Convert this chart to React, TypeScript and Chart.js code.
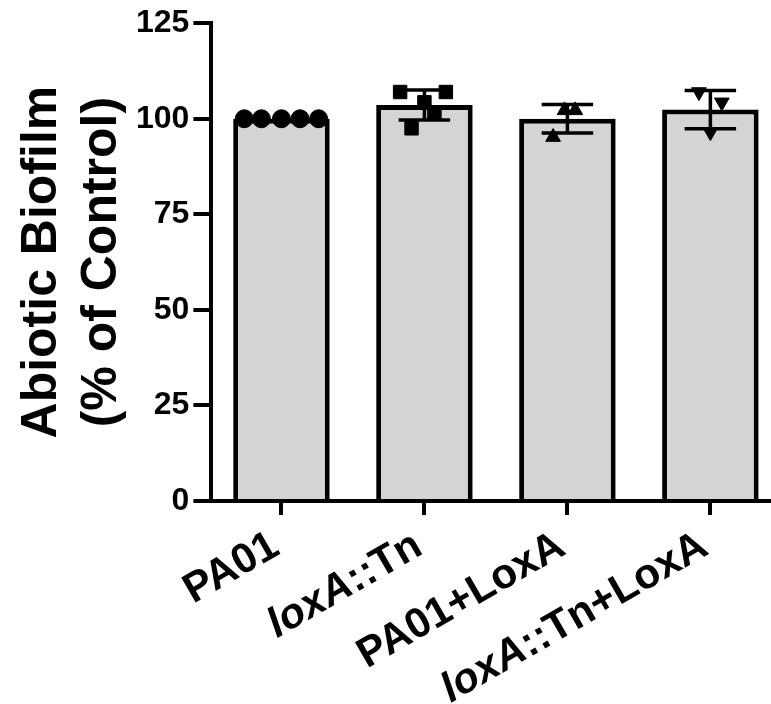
import React, { useEffect, useRef } from "react";
import { Chart, registerables } from "chart.js";

Chart.register(...registerables);

// ---- data ----
const categories = ["PA01", "loxA::Tn", "PA01+LoxA", "loxA::Tn+LoxA"];
const italicWord = "loxA";
const means = [100, 103.6, 100.0, 102.4];
const sds = [0, 3.9, 3.75, 5.0];

const pa01Values = [100, 100, 100, 100, 100];
const pa01Jitter = [-0.26, -0.14, 0, 0.13, 0.26];
const loxTnValues = [107.0, 107.0, 104.3, 101.7, 97.5];
const loxTnJitter = [-0.17, 0.15, 0, 0.07, -0.09];
const pa01LoxValues = [102.2, 102.2, 95.2];
const pa01LoxJitter = [-0.02, 0.055, -0.1];
const loxTnLoxValues = [107.0, 104.3, 96.5];
const loxTnLoxJitter = [-0.08, 0.08, 0];

const yTicks = [0, 25, 50, 75, 100, 125];
const yTitle = ["Abiotic Biofilm", "(% of Control)"];

const FONT = '"Liberation Sans", Arial, sans-serif';

function pts(values: number[], jitter: number[], idx: number) {
  return values.map((v, k) => ({ x: idx + jitter[k], y: v }));
}

const errorBarPlugin = {
  id: "errorBars",
  afterDatasetDraw(chart: any, args: any) {
    if (args.index !== 0) return;
    const { ctx } = chart;
    const xs = chart.scales.x;
    const ys = chart.scales.y;
    ctx.save();
    ctx.strokeStyle = "#000";
    ctx.lineWidth = 3.5;
    ctx.lineCap = "butt";
    means.forEach((m, i) => {
      const sd = sds[i];
      if (!sd) return;
      const cx = xs.getPixelForValue(i);
      const x0 = xs.getPixelForValue(i - 0.18);
      const x1 = xs.getPixelForValue(i + 0.18);
      const yTop = ys.getPixelForValue(m + sd);
      const yBot = ys.getPixelForValue(m - sd);
      ctx.beginPath();
      ctx.moveTo(cx, yTop);
      ctx.lineTo(cx, yBot);
      ctx.moveTo(x0, yTop);
      ctx.lineTo(x1, yTop);
      ctx.moveTo(x0, yBot);
      ctx.lineTo(x1, yBot);
      ctx.stroke();
    });
    ctx.restore();
  },
};

const xLabelPlugin = {
  id: "xLabels",
  afterDraw(chart: any) {
    const { ctx } = chart;
    const xs = chart.scales.x;
    ctx.save();
    ctx.fillStyle = "#000";
    ctx.textAlign = "left";
    ctx.textBaseline = "alphabetic";
    categories.forEach((label, i) => {
      const parts: { t: string; it: boolean }[] = [];
      const pos = label.indexOf(italicWord);
      if (pos >= 0) {
        if (pos > 0) parts.push({ t: label.slice(0, pos), it: false });
        parts.push({ t: italicWord, it: true });
        const rest = label.slice(pos + italicWord.length);
        if (rest) parts.push({ t: rest, it: false });
      } else parts.push({ t: label, it: false });
      const fontFor = (it: boolean) => `${it ? "italic " : ""}bold 42px ${FONT}`;
      let total = 0;
      const widths = parts.map((p) => {
        ctx.font = fontFor(p.it);
        const w = ctx.measureText(p.t).width;
        total += w;
        return w;
      });
      ctx.save();
      ctx.translate(xs.getPixelForValue(i), xs.bottom + 38);
      ctx.rotate(-Math.PI / 6);
      let x = -total;
      parts.forEach((p, k) => {
        ctx.font = fontFor(p.it);
        ctx.fillText(p.t, x, 0);
        x += widths[k];
      });
      ctx.restore();
    });
    ctx.restore();
  },
};

export default function App() {
  const ref = useRef<HTMLCanvasElement>(null);
  useEffect(() => {
    if (!ref.current) return;
    Chart.defaults.font.family = FONT;
    const pointCommon = {
      backgroundColor: "#000",
      borderColor: "#000",
      borderWidth: 1,
      xAxisID: "x",
      yAxisID: "y",
      order: 0,
    };
    const chart = new Chart(ref.current, {
      type: "bar",
      data: {
        datasets: [
          {
            type: "bar",
            data: means.map((m, i) => ({ x: i, y: m })),
            backgroundColor: "#d4d4d4",
            borderColor: "#000",
            borderWidth: 5,
            barPercentage: 0.675,
            categoryPercentage: 1,
            order: 1,
          } as any,
          { type: "scatter", data: pts(pa01Values, pa01Jitter, 0), pointStyle: "circle", pointRadius: 9, ...pointCommon } as any,
          { type: "scatter", data: pts(loxTnValues, loxTnJitter, 1), pointStyle: "rect", pointRadius: 9.5, ...pointCommon } as any,
          { type: "scatter", data: pts(pa01LoxValues, pa01LoxJitter, 2), pointStyle: "triangle", pointRadius: 8.5, ...pointCommon } as any,
          { type: "scatter", data: pts(loxTnLoxValues, loxTnLoxJitter, 3), pointStyle: "triangle", rotation: 180, pointRadius: 8.5, ...pointCommon } as any,
        ],
      },
      options: {
        responsive: false,
        animation: false,
        layout: { autoPadding: false, padding: { top: 23, right: 2, bottom: 189, left: 5 } },
        plugins: { legend: { display: false }, tooltip: { enabled: false } },
        scales: {
          x: {
            type: "linear",
            min: -0.49,
            max: 3.41,
            offset: false,
            ticks: { display: false, stepSize: 1 },
            afterBuildTicks: (s: any) => {
              s.ticks = s.ticks.filter((t: any) => Number.isInteger(t.value));
            },
            grid: { display: true, offset: false, drawOnChartArea: false, drawTicks: true, tickLength: 14, color: "#000", lineWidth: 4 },
            border: { display: true, color: "#000", width: 4 },
          },
          y: {
            min: 0,
            max: 125,
            afterBuildTicks: (s: any) => {
              s.ticks = yTicks.map((v) => ({ value: v }));
            },
            ticks: { color: "#000", font: { size: 32, weight: "bold" }, padding: 4 },
            grid: { display: true, drawOnChartArea: false, drawTicks: true, tickLength: 18, color: "#000", lineWidth: 4 },
            border: { display: true, color: "#000", width: 4 },
            title: {
              display: true,
              text: yTitle,
              color: "#000",
              font: { size: 50, weight: "bold", lineHeight: 1.2 },
              padding: { top: 7, bottom: 0 },
            },
          },
        },
      },
      plugins: [errorBarPlugin, xLabelPlugin],
    } as any);
    return () => chart.destroy();
  }, []);
  return (
    <div style={{ position: "fixed", left: 0, top: 0, width: 771, height: 704, background: "#fff" }}>
      <canvas ref={ref} width={771} height={704} style={{ display: "block" }} />
    </div>
  );
}
